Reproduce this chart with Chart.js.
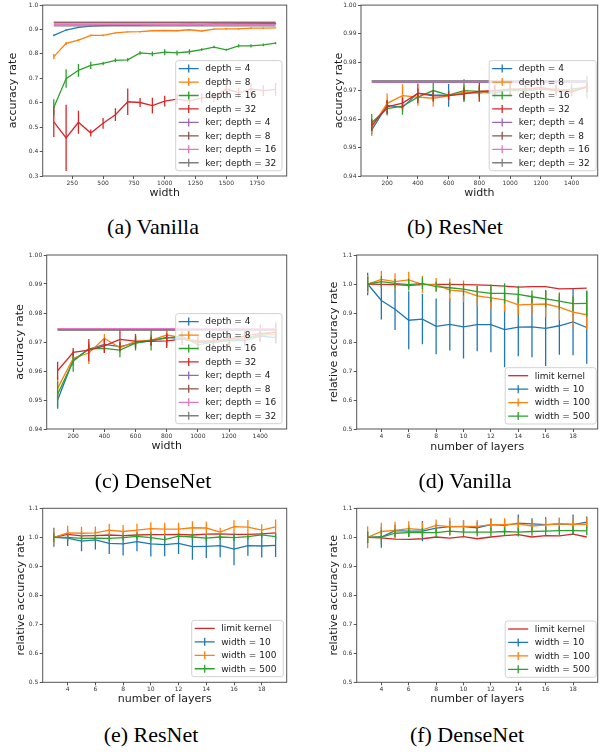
<!DOCTYPE html>
<html><head><meta charset="utf-8">
<script src="https://cdn.jsdelivr.net/npm/chart.js@4.4.1/dist/chart.umd.min.js"></script>
<style>
html,body{margin:0;padding:0;background:#fff;}
body{width:608px;height:756px;position:relative;overflow:hidden;}
canvas{position:absolute;}
.cap{position:absolute;font-family:"Liberation Serif","Times New Roman",serif;font-size:22px;color:#000;transform:translate(-50%,-50%);white-space:nowrap;line-height:1;}
</style></head><body>
<canvas id="ca"></canvas><canvas id="cb"></canvas><canvas id="cc"></canvas>
<canvas id="cd"></canvas><canvas id="ce"></canvas><canvas id="cf"></canvas>
<div class="cap" style="left:153px;top:227px">(a) Vanilla</div>
<div class="cap" style="left:455px;top:227px">(b) ResNet</div>
<div class="cap" style="left:153px;top:481px">(c) DenseNet</div>
<div class="cap" style="left:465px;top:481px">(d) Vanilla</div>
<div class="cap" style="left:151px;top:735px">(e) ResNet</div>
<div class="cap" style="left:467px;top:735px">(f) DenseNet</div>
<script>
// ---------- data ----------
const WIDTHS_A = [100,200,300,400,500,600,700,800,900,1000,1100,1200,1300,1400,1500,1600,1700,1800,1900];
const A_D4  = [0.876,0.898,0.909,0.914,0.916,0.917,0.917,0.918,0.919,0.920,0.920,0.921,0.920,0.922,0.922,0.923,0.923,0.924,0.924];
const A_D4_ERR  = [0.004,0.003,0.002,0.002,0.002,0.002,0.002,0.002,0.002,0.002,0.002,0.002,0.004,0.002,0.002,0.002,0.002,0.002,0.002];
const A_D8  = [0.789,0.843,0.857,0.876,0.876,0.886,0.890,0.891,0.895,0.896,0.895,0.899,0.894,0.902,0.903,0.903,0.906,0.906,0.907];
const A_D8_ERR  = [0.011,0.006,0.004,0.004,0.004,0.002,0.002,0.003,0.002,0.002,0.002,0.003,0.002,0.002,0.003,0.003,0.003,0.003,0.002];
const A_D16 = [0.581,0.699,0.733,0.753,0.761,0.774,0.776,0.804,0.800,0.807,0.804,0.809,0.818,0.828,0.817,0.833,0.833,0.837,0.844];
const A_D16_ERR = [0.033,0.038,0.026,0.015,0.007,0.008,0.007,0.007,0.010,0.012,0.010,0.010,0.005,0.005,0.004,0.007,0.007,0.006,0.004];
const A_D32 = [0.522,0.456,0.520,0.476,0.516,0.551,0.604,0.601,0.588,0.607,0.615,0.608,0.620,0.622,0.657,0.641,0.657,0.650,0.655];
const A_D32_ERR = [0.062,0.136,0.047,0.014,0.022,0.026,0.054,0.018,0.032,0.022,0.020,0.020,0.020,0.020,0.020,0.020,0.022,0.022,0.026];
const A_KER = [0.930,0.927,0.921,0.915];           // ker; depth = 4, 8, 16, 32

const WIDTHS_BC = [100,200,300,400,500,600,700,800,900,1000,1100,1200,1300,1400,1500];
const B_D4  = [0.9562,0.9648,0.9641,0.9691,0.9685,0.9683,0.9689,0.9695,0.9690,0.9705,0.9700,0.9705,0.9705,0.9700,0.9712];
const B_D4_ERR  = [0.0015,0.0018,0.0015,0.0015,0.0012,0.0040,0.0025,0.0015,0.0020,0.0015,0.0015,0.0015,0.0015,0.0015,0.0015];
const B_D8  = [0.9570,0.9655,0.9682,0.9677,0.9673,0.9681,0.9694,0.9690,0.9700,0.9705,0.9705,0.9710,0.9705,0.9700,0.9715];
const B_D8_ERR  = [0.0030,0.0035,0.0040,0.0030,0.0030,0.0015,0.0025,0.0030,0.0020,0.0025,0.0015,0.0015,0.0015,0.0020,0.0020];
const B_D16 = [0.9588,0.9637,0.9645,0.9677,0.9700,0.9684,0.9700,0.9697,0.9698,0.9700,0.9700,0.9705,0.9700,0.9705,0.9712];
const B_D16_ERR = [0.0030,0.0025,0.0030,0.0015,0.0035,0.0015,0.0040,0.0020,0.0020,0.0020,0.0015,0.0015,0.0020,0.0020,0.0040];
const B_D32 = [0.9578,0.9643,0.9656,0.9690,0.9681,0.9682,0.9688,0.9697,0.9700,0.9705,0.9705,0.9710,0.9700,0.9695,0.9713];
const B_D32_ERR = [0.0020,0.0025,0.0020,0.0035,0.0020,0.0015,0.0020,0.0035,0.0020,0.0020,0.0015,0.0015,0.0015,0.0015,0.0020];
const B_KER = [0.9729,0.9733,0.9731,0.9734];

const C_D4  = [0.9500,0.9638,0.9675,0.9692,0.9684,0.9697,0.9704,0.9716,0.9712,0.9700,0.9700,0.9705,0.9705,0.9720,0.9715];
const C_D4_ERR  = [0.0030,0.0020,0.0015,0.0015,0.0015,0.0015,0.0015,0.0030,0.0020,0.0015,0.0015,0.0015,0.0020,0.0020,0.0020];
const C_D8  = [0.9540,0.9644,0.9662,0.9713,0.9680,0.9702,0.9706,0.9724,0.9715,0.9705,0.9702,0.9710,0.9715,0.9722,0.9727];
const C_D8_ERR  = [0.0040,0.0020,0.0038,0.0015,0.0015,0.0015,0.0020,0.0020,0.0020,0.0020,0.0020,0.0020,0.0020,0.0020,0.0020];
const C_D16 = [0.9520,0.9634,0.9677,0.9678,0.9672,0.9696,0.9706,0.9713,0.9720,0.9690,0.9700,0.9705,0.9712,0.9725,0.9735];
const C_D16_ERR = [0.0045,0.0037,0.0015,0.0015,0.0025,0.0025,0.0035,0.0015,0.0020,0.0020,0.0020,0.0020,0.0020,0.0020,0.0025];
const C_D32 = [0.9601,0.9664,0.9672,0.9687,0.9709,0.9703,0.9702,0.9704,0.9710,0.9700,0.9705,0.9710,0.9720,0.9730,0.9733];
const C_D32_ERR = [0.0031,0.0015,0.0038,0.0025,0.0038,0.0025,0.0015,0.0025,0.0020,0.0020,0.0020,0.0020,0.0025,0.0030,0.0035];
const C_KER = [0.9745,0.9742,0.9746,0.9741];

const LAYERS = [3,4,5,6,7,8,9,10,11,12,13,14,15,16,17,18,19];
const D_LIMIT = [1.000,0.999,0.998,0.995,0.998,0.999,0.999,0.998,0.997,0.995,0.993,0.989,0.991,0.991,0.983,0.984,0.986];
const D_W10   = [1.000,0.943,0.913,0.875,0.879,0.854,0.861,0.852,0.860,0.860,0.843,0.851,0.852,0.847,0.856,0.869,0.850];
const D_W10_ERR  = [0.039,0.065,0.072,0.100,0.087,0.096,0.090,0.109,0.092,0.095,0.130,0.100,0.105,0.130,0.100,0.115,0.125];
const D_W100  = [1.000,1.016,1.008,1.014,0.999,0.998,0.979,0.975,0.959,0.952,0.945,0.928,0.930,0.931,0.920,0.903,0.894];
const D_W100_ERR = [0.030,0.029,0.029,0.028,0.029,0.023,0.040,0.037,0.035,0.040,0.040,0.035,0.035,0.045,0.045,0.050,0.050];
const D_W500  = [1.000,1.008,1.002,0.998,1.002,0.991,0.987,0.982,0.974,0.968,0.968,0.964,0.956,0.949,0.941,0.932,0.933];
const D_W500_ERR = [0.025,0.020,0.015,0.020,0.020,0.018,0.020,0.022,0.020,0.030,0.035,0.030,0.022,0.030,0.030,0.025,0.045];

const E_LIMIT = [1.000,1.010,1.005,1.006,1.008,1.006,1.008,1.009,1.009,1.010,1.008,1.011,1.012,1.010,1.010,1.012,1.015];
const E_W10   = [1.000,0.997,0.987,0.991,0.979,0.977,0.985,0.977,0.975,0.979,0.968,0.969,0.971,0.959,0.971,0.970,0.972];
const E_W10_ERR  = [0.033,0.027,0.035,0.033,0.037,0.040,0.033,0.043,0.040,0.037,0.045,0.040,0.040,0.055,0.035,0.040,0.040];
const E_W100  = [1.000,1.015,1.014,1.015,1.025,1.020,1.025,1.030,1.028,1.028,1.033,1.032,1.018,1.037,1.035,1.025,1.036];
const E_W100_ERR = [0.030,0.025,0.022,0.022,0.022,0.022,0.022,0.022,0.022,0.022,0.022,0.022,0.015,0.022,0.025,0.020,0.025];
const E_W500  = [1.000,1.000,0.996,0.997,0.996,0.999,1.003,0.999,0.992,1.004,1.001,0.997,1.001,0.999,1.002,1.008,1.002];
const E_W500_ERR = [0.015,0.012,0.010,0.010,0.010,0.010,0.010,0.012,0.010,0.010,0.010,0.012,0.010,0.012,0.010,0.010,0.012];

const F_LIMIT = [1.000,0.998,0.994,0.993,0.995,1.001,0.997,1.002,0.995,1.001,1.006,1.009,1.001,1.006,1.005,1.011,1.001];
const F_W10   = [1.000,1.001,1.023,1.021,1.021,1.032,1.037,1.037,1.033,1.044,1.041,1.049,1.046,1.044,1.046,1.044,1.052];
const F_W10_ERR  = [0.020,0.037,0.020,0.020,0.035,0.015,0.020,0.020,0.020,0.020,0.020,0.030,0.020,0.025,0.020,0.035,0.020];
const F_W100  = [1.000,1.020,1.024,1.030,1.026,1.041,1.037,1.038,1.038,1.044,1.044,1.046,1.039,1.043,1.046,1.045,1.045];
const F_W100_ERR = [0.038,0.030,0.030,0.025,0.025,0.020,0.030,0.022,0.022,0.022,0.022,0.020,0.020,0.022,0.022,0.022,0.022];
const F_W500  = [1.000,1.001,1.014,1.016,1.017,1.016,1.021,1.018,1.018,1.018,1.020,1.018,1.020,1.021,1.023,1.023,1.022];
const F_W500_ERR = [0.020,0.025,0.015,0.015,0.015,0.015,0.015,0.015,0.015,0.015,0.015,0.015,0.015,0.015,0.015,0.015,0.015];

const XTICKS_A  = [250,500,750,1000,1250,1500,1750];
const XTICKS_BC = [200,400,600,800,1000,1200,1400];
const XTICKS_L  = [4,6,8,10,12,14,16,18];
const YTICKS_A  = [0.3,0.4,0.5,0.6,0.7,0.8,0.9,1.0];
const YTICKS_BC = [0.94,0.95,0.96,0.97,0.98,0.99,1.00];
const YTICKS_L  = [0.5,0.6,0.7,0.8,0.9,1.0,1.1];

const DEPTH_LABELS = ['depth = 4','depth = 8','depth = 16','depth = 32'];
const KER_LABELS = ['ker; depth = 4','ker; depth = 8','ker; depth = 16','ker; depth = 32'];
const WIDTH_LABELS = ['limit kernel','width = 10','width = 100','width = 500'];

// ---------- styling ----------
const C = {blue:'#1f77b4',orange:'#ff7f0e',green:'#2ca02c',red:'#d62728',purple:'#9467bd',brown:'#8c564b',pink:'#e377c2',gray:'#7f7f7f'};
const FONT = 'DejaVu Sans';
Chart.defaults.font.family = FONT;

function mk(label, color, xs, ys, errs, errHandle){
  return {label, borderColor:color, backgroundColor:color, data: xs.map((x,i)=>({x, y: ys[i]})),
    errors: errs || null, errHandle: errHandle !== false, borderWidth:1.3, pointRadius:0, pointHoverRadius:0, tension:0, fill:false};
}

const errPlugin = {
  id:'errbars',
  afterDatasetDraw(chart, args){
    const ds = chart.data.datasets[args.index];
    if(!ds.errors) return;
    const xs = chart.scales.x, ys = chart.scales.y, a = chart.chartArea, ctx = chart.ctx;
    ctx.save();
    ctx.beginPath(); ctx.rect(a.left, a.top, a.right-a.left, a.bottom-a.top); ctx.clip();
    ctx.strokeStyle = ds.borderColor; ctx.lineWidth = ds.borderWidth;
    ctx.beginPath();
    ds.data.forEach((p,i)=>{
      const e = ds.errors[i]; const px = xs.getPixelForValue(p.x);
      ctx.moveTo(px, ys.getPixelForValue(p.y - e)); ctx.lineTo(px, ys.getPixelForValue(p.y + e));
    });
    ctx.stroke(); ctx.restore();
  }
};

const frameLegend = {
  id:'frameLegend',
  afterDatasetsDraw(chart, args, o){
    const ctx = chart.ctx, a = chart.chartArea;
    ctx.save();
    ctx.strokeStyle = '#555'; ctx.lineWidth = 1;
    ctx.strokeRect(a.left, a.top, a.right-a.left, a.bottom-a.top);
    // legend box
    const items = chart.data.datasets;
    const rowH = 13.45;
    const h = items.length*rowH + 2.5;
    const right = a.right - o.dx, bottom = a.bottom - o.dy;
    const left = right - o.w, top = bottom - h;
    const r = 2.5;
    ctx.beginPath();
    ctx.moveTo(left+r, top); ctx.lineTo(right-r, top); ctx.arcTo(right, top, right, top+r, r);
    ctx.lineTo(right, bottom-r); ctx.arcTo(right, bottom, right-r, bottom, r);
    ctx.lineTo(left+r, bottom); ctx.arcTo(left, bottom, left, bottom-r, r);
    ctx.lineTo(left, top+r); ctx.arcTo(left, top, left+r, top, r); ctx.closePath();
    ctx.fillStyle = 'rgba(255,255,255,0.8)'; ctx.fill();
    ctx.strokeStyle = '#d2d2d2'; ctx.lineWidth = 1; ctx.stroke();
    ctx.font = '9px "' + FONT + '"';
    ctx.textBaseline = 'middle'; ctx.textAlign = 'left';
    items.forEach((ds, i)=>{
      const cy = top + 8 + i*rowH;
      ctx.strokeStyle = ds.borderColor; ctx.lineWidth = 1.3;
      ctx.beginPath(); ctx.moveTo(left+3, cy); ctx.lineTo(left+23, cy);
      if(ds.errHandle){ ctx.moveTo(left+13, cy-4); ctx.lineTo(left+13, cy+4); }
      ctx.stroke();
      ctx.fillStyle = '#1a1a1a';
      ctx.fillText(ds.label, left+29.5, cy+0.5);
    });
    ctx.restore();
  }
};

function panel(id, cv, area, xcfg, ycfg, datasets, leg){
  const el = document.getElementById(id);
  el.width = cv.w; el.height = cv.h;
  el.style.left = cv.left+'px'; el.style.top = cv.top+'px';
  el.style.width = cv.w+'px'; el.style.height = cv.h+'px';
  const n = datasets.length;
  datasets.forEach((d,i)=>{ d.order = n - i; });
  const tickFont = {family:FONT, size:6};
  const titleFont = {family:FONT, size:11};
  new Chart(el, {
    type:'line',
    data:{datasets},
    options:{
      responsive:false, animation:false, devicePixelRatio:1,
      layout:{padding:{left:0, bottom:0, top: area.T - cv.top, right: cv.left + cv.w - area.R}},
      plugins:{legend:{display:false}, tooltip:{enabled:false}, frameLegend: leg},
      events:[],
      scales:{
        x:{type:'linear', min:xcfg.min, max:xcfg.max,
          afterBuildTicks:(s)=>{ s.ticks = xcfg.ticks.map(v=>({value:v})); },
          afterFit:(s)=>{ s.height = cv.top + cv.h - area.B; },
          grid:{drawOnChartArea:false, drawTicks:true, tickLength:3, tickColor:'#555', lineWidth:1},
          border:{display:false},
          ticks:{font:tickFont, color:'#333', padding:0.5, autoSkip:false, maxRotation:0,
            callback:(v)=>String(v)},
          title:{display:true, text:xcfg.title, font:titleFont, color:'#1a1a1a', padding:{top:0,bottom:xcfg.tpad}}
        },
        y:{type:'linear', min:ycfg.min, max:ycfg.max,
          afterBuildTicks:(s)=>{ s.ticks = ycfg.ticks.map(v=>({value:v})); },
          afterFit:(s)=>{ s.width = area.L - cv.left; },
          grid:{drawOnChartArea:false, drawTicks:true, tickLength:3, tickColor:'#555', lineWidth:1},
          border:{display:false},
          ticks:{font:tickFont, color:'#333', padding:1.5, autoSkip:false,
            callback:(v)=>Number(v).toFixed(ycfg.dec)},
          title:{display:true, text:ycfg.title, font:titleFont, color:'#1a1a1a', padding:{top:ycfg.tpad,bottom:0}}
        }
      }
    },
    plugins:[errPlugin, frameLegend]
  });
}

function depthSets(xs, d4,e4,d8,e8,d16,e16,d32,e32,ker){
  const cols = [C.blue,C.orange,C.green,C.red];
  const kcols = [C.purple,C.brown,C.pink,C.gray];
  const vals = [[d4,e4],[d8,e8],[d16,e16],[d32,e32]];
  const sets = vals.map((v,i)=>mk(DEPTH_LABELS[i], cols[i], xs, v[0], v[1]));
  ker.forEach((k,i)=>{ sets.push(mk(KER_LABELS[i], kcols[i], xs, xs.map(()=>k), null, true)); });
  return sets;
}
function layerSets(lim, w10,e10,w100,e100,w500,e500){
  return [mk(WIDTH_LABELS[0], C.red, LAYERS, lim, null, false),
          mk(WIDTH_LABELS[1], C.blue, LAYERS, w10, e10),
          mk(WIDTH_LABELS[2], C.orange, LAYERS, w100, e100),
          mk(WIDTH_LABELS[3], C.green, LAYERS, w500, e500)];
}

const yA = {min:0.3, max:1.0, ticks:YTICKS_A, dec:1, title:'accuracy rate'};
const yBC = {min:0.94, max:1.00, ticks:YTICKS_BC, dec:2, title:'accuracy rate'};
const yL = {min:0.5, max:1.1, ticks:YTICKS_L, dec:1, title:'relative accuracy rate'};
const xA = {min:10, max:1990, ticks:XTICKS_A, title:'width'};
const xBC = {min:30, max:1570, ticks:XTICKS_BC, title:'width'};
const xL = {min:2.2, max:19.8, ticks:XTICKS_L, title:'number of layers'};

panel('ca', {left:0, top:0, w:300, h:205}, {L:42.7, R:286.7, T:4, B:176},
  Object.assign({}, xA, {tpad:5.1}), Object.assign({}, yA, {tpad:6.7}),
  depthSets(WIDTHS_A, A_D4,A_D4_ERR,A_D8,A_D8_ERR,A_D16,A_D16_ERR,A_D32,A_D32_ERR,A_KER),
  {dx:4.7, dy:5.3, w:106.3});
panel('cb', {left:300, top:0, w:308, h:205}, {L:361, R:597.7, T:4, B:176},
  Object.assign({}, xBC, {tpad:5.1}), Object.assign({}, yBC, {tpad:32.7}),
  depthSets(WIDTHS_BC, B_D4,B_D4_ERR,B_D8,B_D8_ERR,B_D16,B_D16_ERR,B_D32,B_D32_ERR,B_KER),
  {dx:1.5, dy:5.3, w:107});
panel('cc', {left:0, top:240, w:300, h:215}, {L:46.7, R:286.7, T:255, B:429},
  Object.assign({}, xBC, {tpad:2.4}), Object.assign({}, yBC, {tpad:13.4}),
  depthSets(WIDTHS_BC, C_D4,C_D4_ERR,C_D8,C_D8_ERR,C_D16,C_D16_ERR,C_D32,C_D32_ERR,C_KER),
  {dx:4.7, dy:5.3, w:106.3});
panel('cd', {left:300, top:240, w:308, h:215}, {L:356.7, R:597.7, T:255, B:429},
  Object.assign({}, xL, {tpad:1.7}), Object.assign({}, yL, {tpad:27.4}),
  layerSets(D_LIMIT, D_W10,D_W10_ERR,D_W100,D_W100_ERR,D_W500,D_W500_ERR),
  {dx:1.5, dy:5, w:91});
panel('ce', {left:0, top:490, w:300, h:218}, {L:42.7, R:286.7, T:508.3, B:682.3},
  Object.assign({}, xL, {tpad:2.1}), Object.assign({}, yL, {tpad:14.1}),
  layerSets(E_LIMIT, E_W10,E_W10_ERR,E_W100,E_W100_ERR,E_W500,E_W500_ERR),
  {dx:3.4, dy:5.6, w:91.6});
panel('cf', {left:300, top:490, w:308, h:218}, {L:356.7, R:597.7, T:508.3, B:682.3},
  Object.assign({}, xL, {tpad:2.1}), Object.assign({}, yL, {tpad:27.4}),
  layerSets(F_LIMIT, F_W10,F_W10_ERR,F_W100,F_W100_ERR,F_W500,F_W500_ERR),
  {dx:1.5, dy:5, w:91});
</script>
</body></html>
